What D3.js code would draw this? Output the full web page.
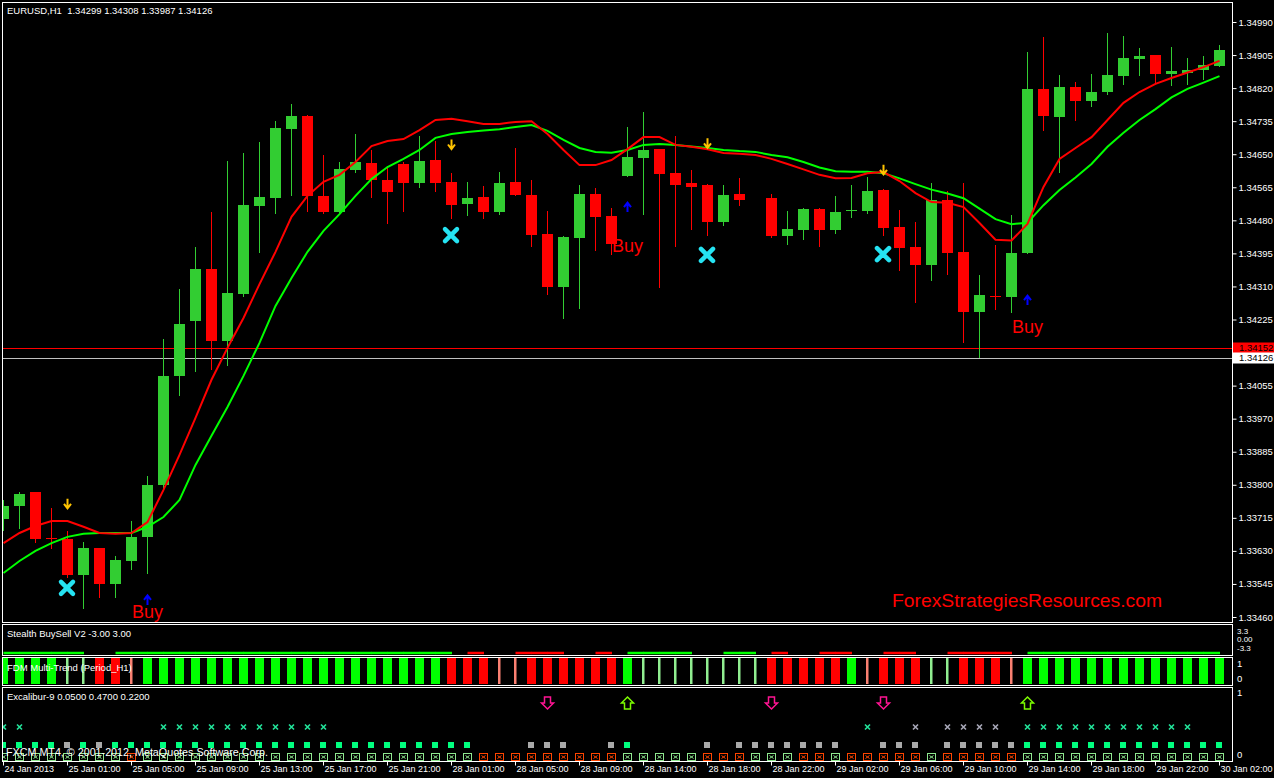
<!DOCTYPE html>
<html><head><meta charset="utf-8">
<script src="https://cdn.jsdelivr.net/npm/d3@7/dist/d3.min.js"></script>
<style>
html,body{margin:0;padding:0;background:#000;overflow:hidden}
svg{display:block}
text{font-family:"Liberation Sans",Arial,sans-serif;fill:#fff}
</style></head><body>
<svg id="chart" width="1274" height="778"></svg>
<script>
// ---------- DATA ----------
const opens=[1.33712,1.33746,1.33782,1.33663,1.33661,1.33568,1.33638,1.33545,1.33604,1.33666,
1.33800,1.34080,1.34221,1.34355,1.34170,1.34291,1.34517,1.34537,1.34715,1.34748,
1.34543,1.34502,1.34610,1.34628,1.34584,1.34625,1.34576,1.34635,1.34579,1.34522,
1.34540,1.34502,1.34579,1.34545,1.34445,1.34309,1.34435,1.34548,1.34491,1.34594,
1.34640,1.34663,1.34602,1.34576,1.34571,1.34476,1.34548,null,1.34537,1.34440,
1.34455,1.34509,1.34455,1.34504,1.34504,1.34558,1.34463,1.34412,1.34365,1.34532,
1.34399,1.34244,1.34286,1.34283,1.34396,1.34818,1.34746,1.34823,1.34787,1.34810,
1.34851,1.34895,1.34905,1.34856,1.34859,1.34867,1.34877];
const highs=[1.33761,1.33782,1.33782,1.33741,1.33681,1.33653,1.33638,1.33617,1.33707,1.33823,
1.34175,1.34304,1.34412,1.34502,1.34633,1.34653,1.34681,1.34735,1.34779,1.34751,
1.34648,1.34630,1.34702,1.34661,1.34620,1.34630,1.34697,1.34684,1.34602,1.34579,
1.34568,1.34604,1.34666,1.34584,1.34504,1.34440,1.34571,1.34563,1.34512,1.34720,
1.34759,1.34663,1.34697,1.34610,1.34574,1.34571,1.34589,null,1.34548,1.34504,
1.34512,1.34512,1.34543,1.34571,1.34592,1.34561,1.34507,1.34476,1.34576,1.34556,
1.34576,1.34340,1.34417,1.34494,1.34913,1.34951,1.34854,1.34836,1.34856,1.34962,
1.34954,1.34923,1.34905,1.34926,1.34897,1.34903,1.34931];
const lows=[1.33684,1.33689,1.33653,1.33638,1.33563,1.33483,1.33512,1.33512,1.33584,1.33573,
1.33787,1.34031,1.34093,1.34098,1.34108,1.34286,1.34399,1.34499,1.34545,1.34504,
1.34499,1.34499,1.34604,1.34540,1.34473,1.34504,1.34566,1.34556,1.34486,1.34494,
1.34486,1.34496,1.34545,1.34414,1.34291,1.34229,1.34255,1.34404,1.34393,1.34594,
1.34496,1.34309,1.34414,1.34458,1.34442,1.34468,1.34520,null,1.34437,1.34419,
1.34432,1.34414,1.34448,1.34489,1.34499,1.34442,1.34352,1.34270,1.34327,1.34342,
1.34167,1.34129,1.34252,1.34244,1.34396,1.34712,1.34604,1.34738,1.34774,1.34805,
1.34831,1.34854,1.34833,1.34828,1.34831,1.34843,1.34877];
const closes=[1.33746,1.33777,1.33661,1.33661,1.33568,1.33638,1.33545,1.33607,1.33666,1.33800,
1.34080,1.34214,1.34355,1.34170,1.34293,1.34520,1.34540,1.34717,1.34748,1.34543,
1.34502,1.34612,1.34630,1.34584,1.34553,1.34576,1.34633,1.34576,1.34520,1.34537,
1.34502,1.34576,1.34545,1.34442,1.34309,1.34437,1.34548,1.34489,1.34419,1.34643,
1.34661,1.34599,1.34571,1.34566,1.34476,1.34545,1.34532,null,1.34440,1.34458,
1.34509,1.34455,1.34502,1.34507,1.34556,1.34460,1.34409,1.34365,1.34532,1.34396,
1.34244,1.34288,1.34283,1.34396,1.34818,1.34748,1.34823,1.34787,1.34810,1.34854,
1.34897,1.34903,1.34856,1.34864,1.34867,1.34879,1.34918];
const maFast=[1.33650,1.33676,1.33694,1.33707,1.33707,1.33692,1.33676,1.33674,1.33676,1.33704,
1.33787,1.33877,1.33972,1.34070,1.34152,1.34229,1.34316,1.34399,1.34489,1.34543,
1.34579,1.34597,1.34630,1.34671,1.34684,1.34689,1.34712,1.34738,1.34741,1.34735,
1.34728,1.34728,1.34733,1.34735,1.34702,1.34661,1.34622,1.34622,1.34635,1.34663,
1.34694,1.34694,1.34674,1.34669,1.34663,1.34653,1.34651,1.34648,1.34638,1.34625,
1.34611,1.34597,1.34588,1.34589,1.34601,1.34604,1.34581,1.34550,1.34527,1.34525,
1.34514,1.34473,1.34430,1.34428,1.34471,1.34566,1.34638,1.34666,1.34694,1.34738,
1.34782,1.34810,1.34831,1.34846,1.34860,1.34874,1.34890];
const maSlow=[1.33573,1.33604,1.33630,1.33650,1.33666,1.33674,1.33676,1.33676,1.33676,1.33692,
1.33717,1.33761,1.33851,1.33926,1.34000,1.34080,1.34165,1.34260,1.34332,1.34399,
1.34453,1.34496,1.34543,1.34586,1.34617,1.34638,1.34661,1.34692,1.34702,1.34707,
1.34711,1.34714,1.34720,1.34725,1.34710,1.34687,1.34666,1.34656,1.34654,1.34661,
1.34674,1.34676,1.34674,1.34670,1.34666,1.34661,1.34658,1.34656,1.34648,1.34642,
1.34630,1.34616,1.34606,1.34605,1.34605,1.34601,1.34588,1.34573,1.34559,1.34549,
1.34537,1.34510,1.34483,1.34470,1.34474,1.34519,1.34558,1.34590,1.34625,1.34669,
1.34705,1.34738,1.34766,1.34796,1.34818,1.34834,1.34851];
const priceTicks=[1.34990,1.34905,1.34820,1.34735,1.34650,1.34565,1.34480,1.34395,1.34310,1.34225,
1.34055,1.33970,1.33885,1.33800,1.33715,1.33630,1.33545,1.33460];
const askPrice=1.34152, bidPrice=1.34126;
const timeTickBars=[0,4,8,12,16,20,24,28,32,36,40,44,48,52,56,60,64,68,72,76];
const timeLabels=["24 Jan 2013","25 Jan 01:00","25 Jan 05:00","25 Jan 09:00","25 Jan 13:00","25 Jan 17:00",
"25 Jan 21:00","28 Jan 01:00","28 Jan 05:00","28 Jan 09:00","28 Jan 14:00","28 Jan 18:00","28 Jan 22:00",
"29 Jan 02:00","29 Jan 06:00","29 Jan 10:00","29 Jan 14:00","29 Jan 18:00","29 Jan 22:00","30 Jan 02:00"];
const sellArrows=[{bar:4,price:1.33751},{bar:28,price:1.34675},{bar:44,price:1.34678},{bar:55,price:1.34610}];
const crossMarks=[{bar:4,price:1.33535},{bar:28,price:1.34442},{bar:44,price:1.34391},{bar:55,price:1.34393}];
const buyArrows=[{bar:9,price:1.33504},{bar:39,price:1.34514},{bar:64,price:1.34275}];
const buyLabels=[{bar:9,price:1.33473},{bar:39,price:1.34414},{bar:64,price:1.34206}];
// Stealth BuySell: 1 buy (green), -1 sell (red), 0 none
const stealth=[1,1,1,1,1,1,0,1,1,1,1,1,1,1,1,1,1,1,1,1,1,1,1,1,1,1,1,1,1,-1,
-1,0,-1,-1,-1,-1,0,-1,-1,1,1,1,1,1,0,1,1,1,-1,-1,0,-1,-1,-1,0,-1,-1,-1,0,-1,
-1,-1,-1,-1,1,1,1,1,1,1,1,1,1,1,1,1,1];
const stealthScale=["3.3","0.00","-3.3"];
// FDM: G strong up, g weak up, R strong down, r weak down
const fdm="GGGGggRRrGGGGGGGGGGGGGGGGGGGRRRrrRRRRRRGggggggggRRRRRGrRRRggRRRrGGGGGGGGGGGGG";
// Excalibur rows: g green, s grey, r red, . none
const excX  ="gg........ggggggggggg.................................g..s.ssss.ggggggggggg..";
const excSq ="ggggsgsggggggggggggggggggggggg...sss..sg....s.sssssss..sss.sssssggggggggggggg";
const excBox="ggggggggrgggggggggggggggggggggrrrrrrrrrgggggrrrgggrrgrrrrrgrrrrrggggggggggggg";
const excArrows=[{bar:34,dir:-1},{bar:39,dir:1},{bar:48,dir:-1},{bar:55,dir:-1},{bar:64,dir:1}];

// ---------- CHART ----------
const svg=d3.select("#chart");
svg.append("rect").attr("width",1274).attr("height",778).attr("fill","#000");
const N=opens.length;
const x=d3.scaleLinear().domain([0,N-1]).range([3.5,1219.5]);
const y=d3.scaleLinear().domain([1.33460,1.34990]).range([617,22]);
const L=2.5,R=1232.5;
const panels=[[2.5,622.5],[624.5,655.5],[657.5,685.5],[687.5,761.5]];

const defs=svg.append("defs");
defs.append("clipPath").attr("id","mainclip").append("rect").attr("x",3).attr("y",3).attr("width",1229).attr("height",619);
defs.append("clipPath").attr("id","subclip").append("rect").attr("x",3).attr("y",624).attr("width",1229).attr("height",138);

// horizontal bid/ask lines
svg.append("line").attr("x1",L).attr("x2",1234).attr("y1",Math.round(y(askPrice))+0.5).attr("y2",Math.round(y(askPrice))+0.5).attr("stroke","#ff0000");
svg.append("line").attr("x1",L).attr("x2",1234).attr("y1",Math.round(y(bidPrice))+0.5).attr("y2",Math.round(y(bidPrice))+0.5).attr("stroke","#c0c0c0");

const gMain=svg.append("g").attr("clip-path","url(#mainclip)");
const bars=d3.range(N).filter(i=>opens[i]!==null);
const up=i=>closes[i]>=opens[i];
const col=i=>up(i)?"#32cd32":"#ff0000";
gMain.selectAll("line.wick").data(bars).join("line").attr("class","wick")
  .attr("x1",i=>x(i)).attr("x2",i=>x(i))
  .attr("y1",i=>Math.round(y(highs[i]))).attr("y2",i=>Math.round(y(lows[i]))+1)
  .attr("stroke",col).attr("stroke-width",1);
gMain.selectAll("rect.body").data(bars).join("rect").attr("class","body")
  .attr("x",i=>x(i)-5.5).attr("width",11)
  .attr("y",i=>Math.round(y(Math.max(opens[i],closes[i]))))
  .attr("height",i=>Math.max(1,Math.round(y(Math.min(opens[i],closes[i])))-Math.round(y(Math.max(opens[i],closes[i])))))
  .attr("fill",col);

const line=d3.line().x((d,i)=>x(i)).y(d=>y(d));
gMain.append("path").datum(maSlow).attr("d",line).attr("fill","none").attr("stroke","#00ff00").attr("stroke-width",2);
gMain.append("path").datum(maFast).attr("d",line).attr("fill","none").attr("stroke","#ff0000").attr("stroke-width",2);

// annotations
sellArrows.forEach(a=>{const cx=x(a.bar),cy=y(a.price);
  gMain.append("path").attr("d",`M${cx},${cy-5}L${cx},${cy+4}M${cx-3.5},${cy}L${cx},${cy+4.5}L${cx+3.5},${cy}`)
   .attr("fill","none").attr("stroke","#ffc400").attr("stroke-width",2);});
buyArrows.forEach(a=>{const cx=x(a.bar),cy=y(a.price);
  gMain.append("path").attr("d",`M${cx},${cy+5}L${cx},${cy-4}M${cx-3.5},${cy}L${cx},${cy-4.5}L${cx+3.5},${cy}`)
   .attr("fill","none").attr("stroke","#0000ff").attr("stroke-width",2);});
crossMarks.forEach(a=>{const cx=x(a.bar)-0.5,cy=y(a.price);
  gMain.append("path").attr("d",`M${cx-6},${cy-6}L${cx+6},${cy+6}M${cx+6},${cy-6}L${cx-6},${cy+6}`)
   .attr("fill","none").attr("stroke","#25e3f2").attr("stroke-width",4.5).attr("stroke-linecap","round");});
buyLabels.forEach(a=>{
  gMain.append("text").attr("x",x(a.bar)).attr("y",y(a.price)).attr("dy","0.36em").attr("text-anchor","middle")
   .style("font-size","18px").style("fill","#ff0000").text("Buy");});
gMain.append("text").attr("x",892).attr("y",600).attr("dy","0.36em").attr("textLength",270).attr("lengthAdjust","spacingAndGlyphs")
  .style("font-size","19px").style("fill","#ff0000").text("ForexStrategiesResources.com");

svg.append("text").attr("x",7).attr("y",11).attr("dy","0.35em").style("font-size","9.5px").style("white-space","pre")
  .text("EURUSD,H1  1.34299 1.34308 1.33987 1.34126");

// panel frames
panels.forEach(p=>{svg.append("rect").attr("x",L).attr("y",p[0]).attr("width",R-L).attr("height",p[1]-p[0])
  .attr("fill","none").attr("stroke","#fff");});

// right price axis
const yAxis=d3.axisRight(y).tickValues(priceTicks).tickSize(4).tickFormat(d=>d.toFixed(5));
const ga=svg.append("g").attr("transform",`translate(${R},0)`).call(yAxis);
ga.select(".domain").remove();
ga.selectAll(".tick line").attr("stroke","#fff");
ga.selectAll(".tick text").attr("x",6).style("font-size","9.5px").style("font-family","Liberation Sans, Arial").attr("fill","#fff");

// price labels
[[askPrice,"#ff0000","#000"],[bidPrice,"#ffffff","#000"]].forEach(([p,bg,fg])=>{
  const yy=Math.round(y(p));
  svg.append("rect").attr("x",1233).attr("y",yy-5.5).attr("width",41).attr("height",11).attr("fill",bg);
  svg.append("text").attr("x",1239).attr("y",yy).attr("dy","0.35em").style("font-size","9.5px").style("fill",fg).text(p.toFixed(5));
});

// sub-panel scale labels
stealthScale.forEach((t,k)=>{
  svg.append("text").attr("x",1237).attr("y",631+k*8.5).attr("dy","0.35em").style("font-size","8px").text(t);});
[["1",664],["0",679],["1",693],["0",755]].forEach(([t,yy])=>{
  svg.append("text").attr("x",1237).attr("y",yy).attr("dy","0.35em").style("font-size","9.5px").text(t);});

const gSub=svg.append("g").attr("clip-path","url(#subclip)");
// Stealth BuySell segments
for(let i=0;i<N-1;i++){
  if(stealth[i]!==0 && stealth[i]===stealth[i+1]){
    gSub.append("line").attr("x1",x(i)).attr("x2",x(i+1)+0.5).attr("y1",653).attr("y2",653)
      .attr("stroke",stealth[i]>0?"#00ff00":"#ff0000").attr("stroke-width",2.5);
  }
}
// FDM histogram
const fdmCol={G:"#00ff00",g:"#90ee90",R:"#ff0000",r:"#fa8072"};
gSub.selectAll("rect.fdm").data(d3.range(N)).join("rect").attr("class","fdm")
  .attr("x",i=>(fdm[i]==="G"||fdm[i]==="R")?x(i)-4.5:x(i)-1.5)
  .attr("width",i=>(fdm[i]==="G"||fdm[i]==="R")?9:2.5)
  .attr("y",658).attr("height",26).attr("fill",i=>fdmCol[fdm[i]]);

// Excalibur
excArrows.forEach(a=>{const cx=x(a.bar),cy=703,d=a.dir;
  const pts=[[cx-3,cy+6*d],[cx+3,cy+6*d],[cx+3,cy],[cx+6,cy],[cx,cy-6*d],[cx-6,cy],[cx-3,cy]];
  gSub.append("path").attr("d","M"+pts.map(p=>p.join(",")).join("L")+"Z").attr("fill","none")
   .attr("stroke",d>0?"#7cfc00":"#ff1493").attr("stroke-width",1.5);});
d3.range(N).forEach(i=>{
  const cx=x(i);
  if(excX[i]!=="."){
    gSub.append("path").attr("d",`M${cx-2.5},${724.5}L${cx+2.5},${729.5}M${cx+2.5},${724.5}L${cx-2.5},${729.5}`)
      .attr("stroke",excX[i]==="g"?"#22e39a":"#a8a8b8").attr("stroke-width",1.6);}
  if(excSq[i]!=="."){
    gSub.append("rect").attr("x",cx-3.5).attr("y",742).attr("width",6).attr("height",6)
      .attr("fill",excSq[i]==="g"?"#00ff7f":"#a9a9a9");}
  if(excBox[i]!=="."){
    const c=excBox[i]==="g"?"#8fe88f":"#ff4500";
    gSub.append("rect").attr("x",cx-4).attr("y",753.5).attr("width",8).attr("height",7).attr("fill","none").attr("stroke",c);
    gSub.append("path").attr("d",`M${cx-2},${755.5}L${cx+2},${758.5}M${cx+2},${755.5}L${cx-2},${758.5}`).attr("stroke",c).attr("stroke-width",1);}
});

// panel titles
svg.append("text").attr("x",7).attr("y",634).attr("dy","0.35em").style("font-size","9.5px").text("Stealth BuySell V2 -3.00 3.00");
svg.append("text").attr("x",7).attr("y",668).attr("dy","0.35em").style("font-size","9.5px").text("FDM Multi-Trend (Period_H1)");
svg.append("text").attr("x",7).attr("y",697).attr("dy","0.35em").style("font-size","9.5px").text("Excalibur-9 0.0500 0.4700 0.2200");
svg.append("text").attr("x",6).attr("y",752).attr("dy","0.35em").attr("textLength",262).attr("lengthAdjust","spacingAndGlyphs")
  .style("font-size","11px").text("FXCM MT4, © 2001-2012, MetaQuotes Software Corp.");

// time axis
const xAxis=d3.axisBottom(x).tickValues(timeTickBars).tickSize(4).tickFormat((d,i)=>timeLabels[i]);
const gx=svg.append("g").attr("transform","translate(-0.5,761.5)").call(xAxis);
gx.select(".domain").remove();
gx.selectAll(".tick line").attr("stroke","#fff");
gx.selectAll(".tick text").attr("text-anchor","start").attr("x",1).attr("y",4).attr("dy","0.71em")
  .style("font-size","9px").style("font-family","Liberation Sans, Arial").attr("fill","#fff");
</script></body></html>
